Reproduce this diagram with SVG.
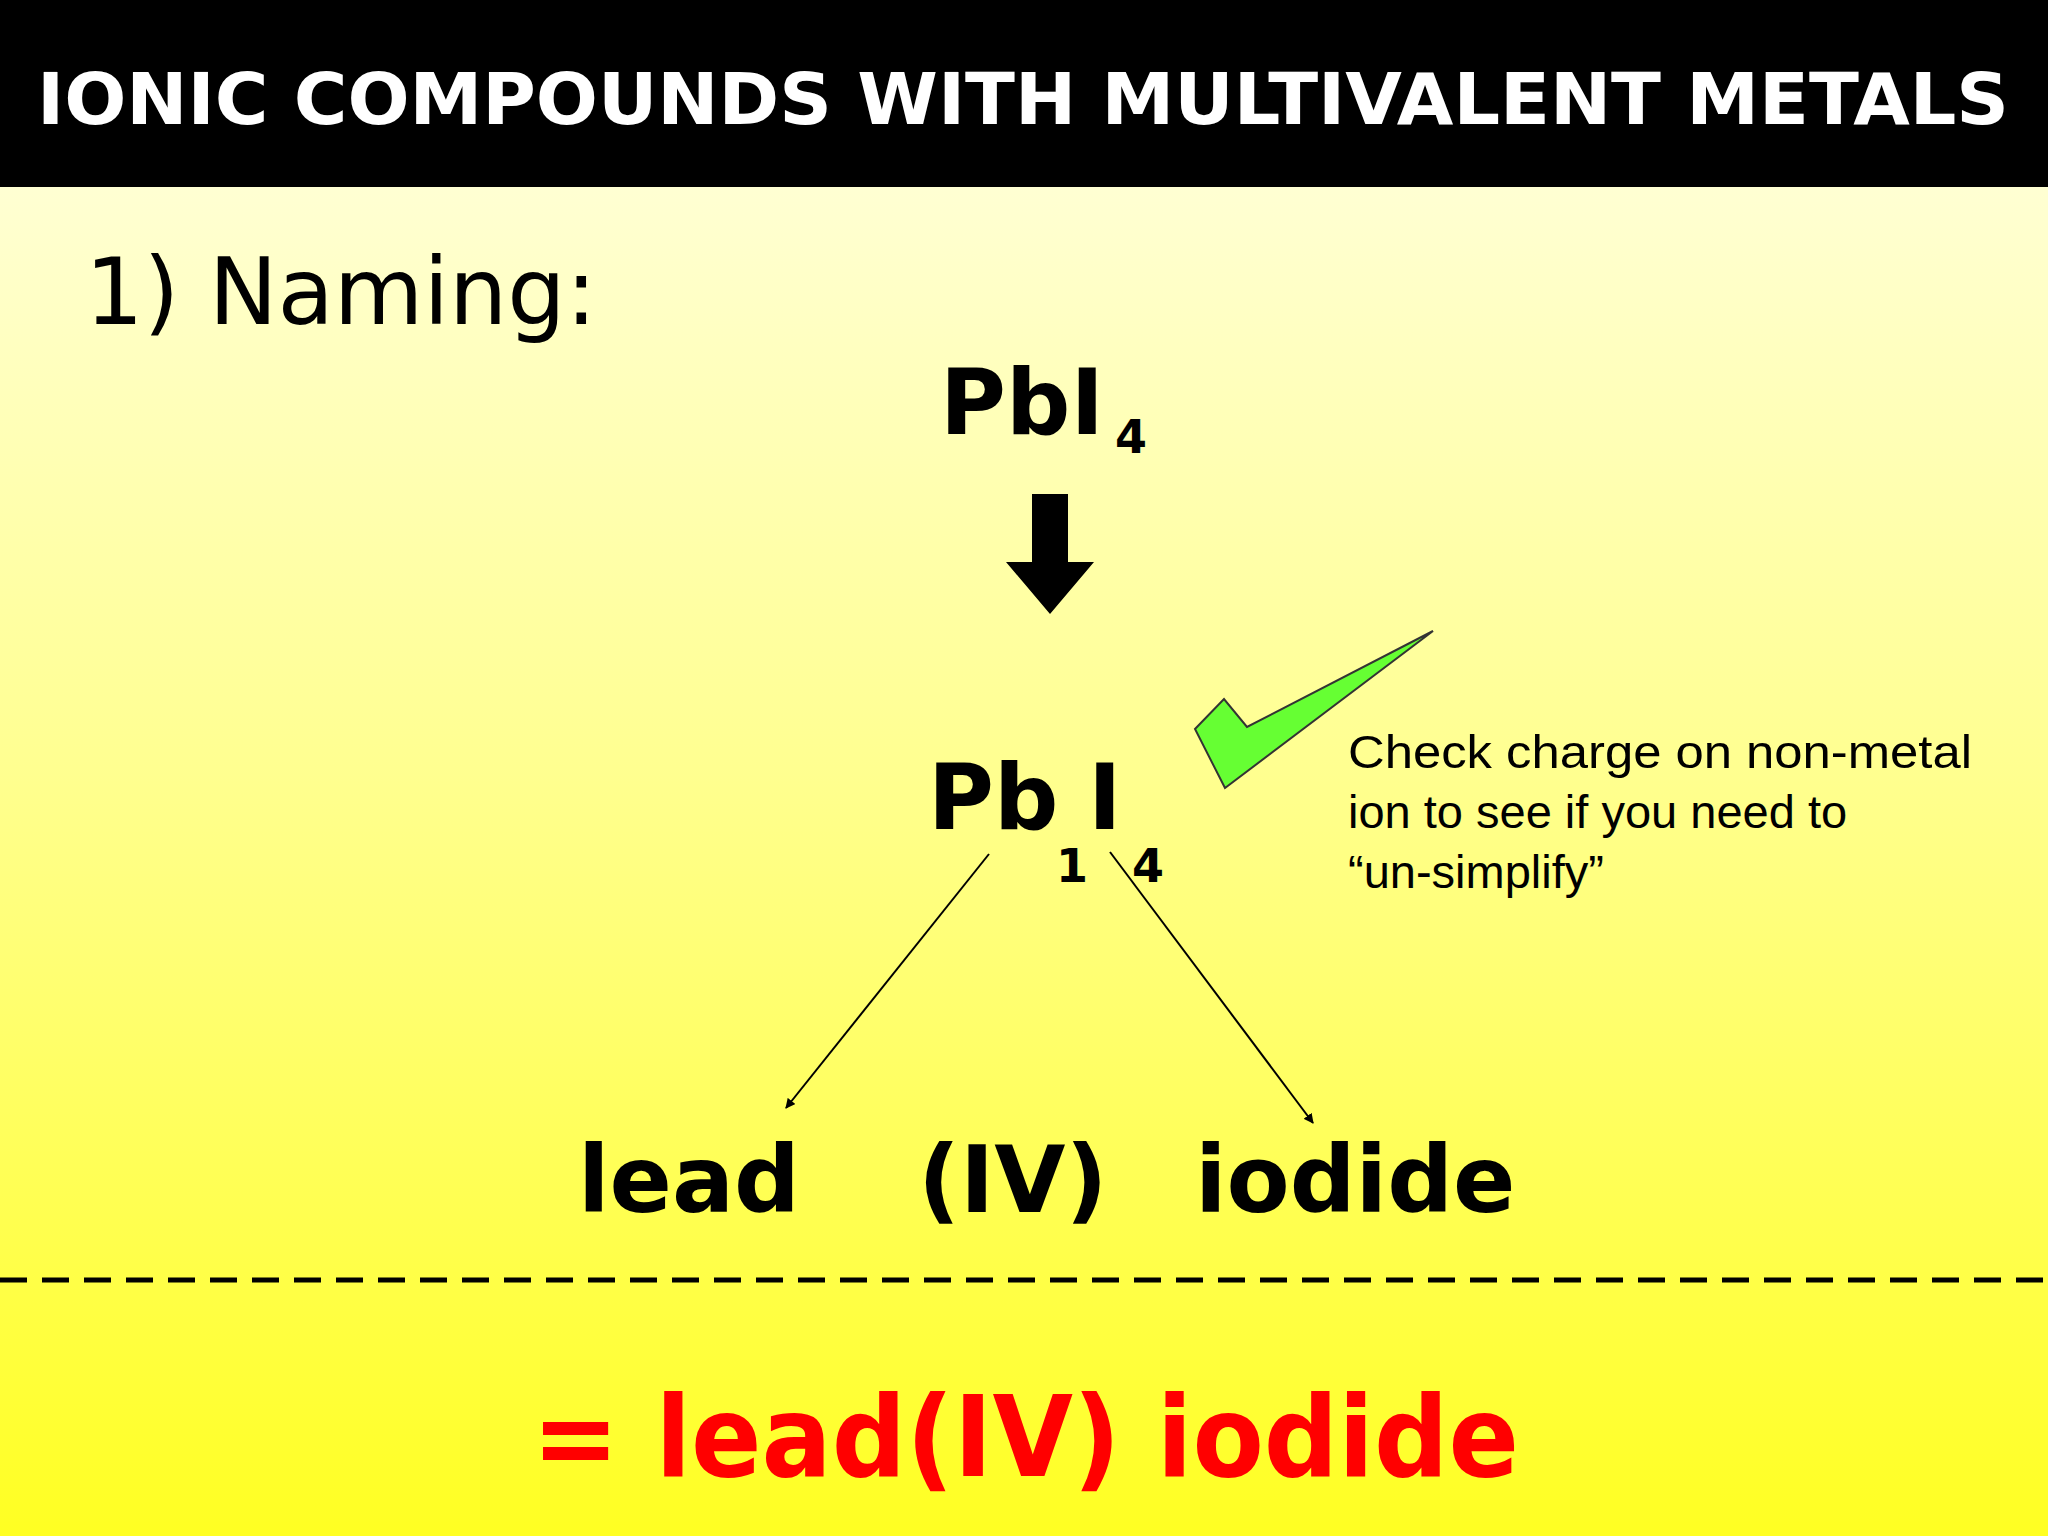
<svg xmlns="http://www.w3.org/2000/svg" width="2048" height="1536" viewBox="0 0 2048 1536">
<defs>
<linearGradient id="bg" x1="0" y1="0" x2="0" y2="1"><stop offset="0" stop-color="#FFFFE8"/><stop offset="0.5" stop-color="#FFFF90"/><stop offset="1" stop-color="#FFFF22"/></linearGradient>
<marker id="ah" markerWidth="10" markerHeight="10" refX="9" refY="5" orient="auto" markerUnits="userSpaceOnUse"><path d="M0,0 L10,5 L0,10 z" fill="#000"/></marker>
<style>.b{font-family:"DejaVu Sans",sans-serif;font-weight:bold}.r{font-family:"Liberation Sans",Arial,sans-serif}</style>
</defs>
<rect width="2048" height="1536" fill="url(#bg)"/>
<rect width="2048" height="187" fill="#000"/>
<text class="b" x="37" y="124" font-size="72" fill="#fff" textLength="1972" lengthAdjust="spacingAndGlyphs">IONIC COMPOUNDS WITH MULTIVALENT METALS</text>
<text x="85" y="324" font-family="DejaVu Sans,sans-serif" font-size="92">1) Naming:</text>
<g id="formula"><text class="b" x="940" y="434" font-size="90">PbI</text><text class="b" x="1115" y="453" font-size="46">4</text></g>
<g id="arrow"><polygon points="1032,494 1068,494 1068,562 1094,562 1050,614 1006,562 1032,562" fill="#000"/></g>
<g id="split"><text class="b" x="928" y="829" font-size="90">Pb</text><text class="b" x="1088" y="829" font-size="90">I</text><text class="b" x="1056" y="882" font-size="46">1</text><text class="b" x="1132" y="882" font-size="46">4</text></g>
<g id="check"><polygon points="1195,729 1224,699 1247,727 1433,631 1225,788" fill="#66FF33" stroke="#333" stroke-width="2"/></g>
<g id="note" class="r" font-size="47"><text x="1348" y="768" textLength="624" lengthAdjust="spacingAndGlyphs">Check charge on non-metal</text><text x="1348" y="828">ion to see if you need to</text><text x="1348" y="888">“un-simplify”</text></g>
<g id="connectors" stroke="#000" stroke-width="2"><line x1="989" y1="854" x2="786" y2="1108" marker-end="url(#ah)"/><line x1="1110" y1="852" x2="1313" y2="1123" marker-end="url(#ah)"/></g>
<g id="names" class="b" font-size="92"><text x="578" y="1212">lead</text><text x="918" y="1212">(IV)</text><text x="1195" y="1212">iodide</text></g>
<line x1="0" y1="1280" x2="2048" y2="1280" stroke="#000" stroke-width="5" stroke-dasharray="27,15"/>
<text class="b" x="532" y="1476" font-size="112" fill="#FF0000" textLength="987" lengthAdjust="spacingAndGlyphs">= lead(IV) iodide</text>
</svg>
